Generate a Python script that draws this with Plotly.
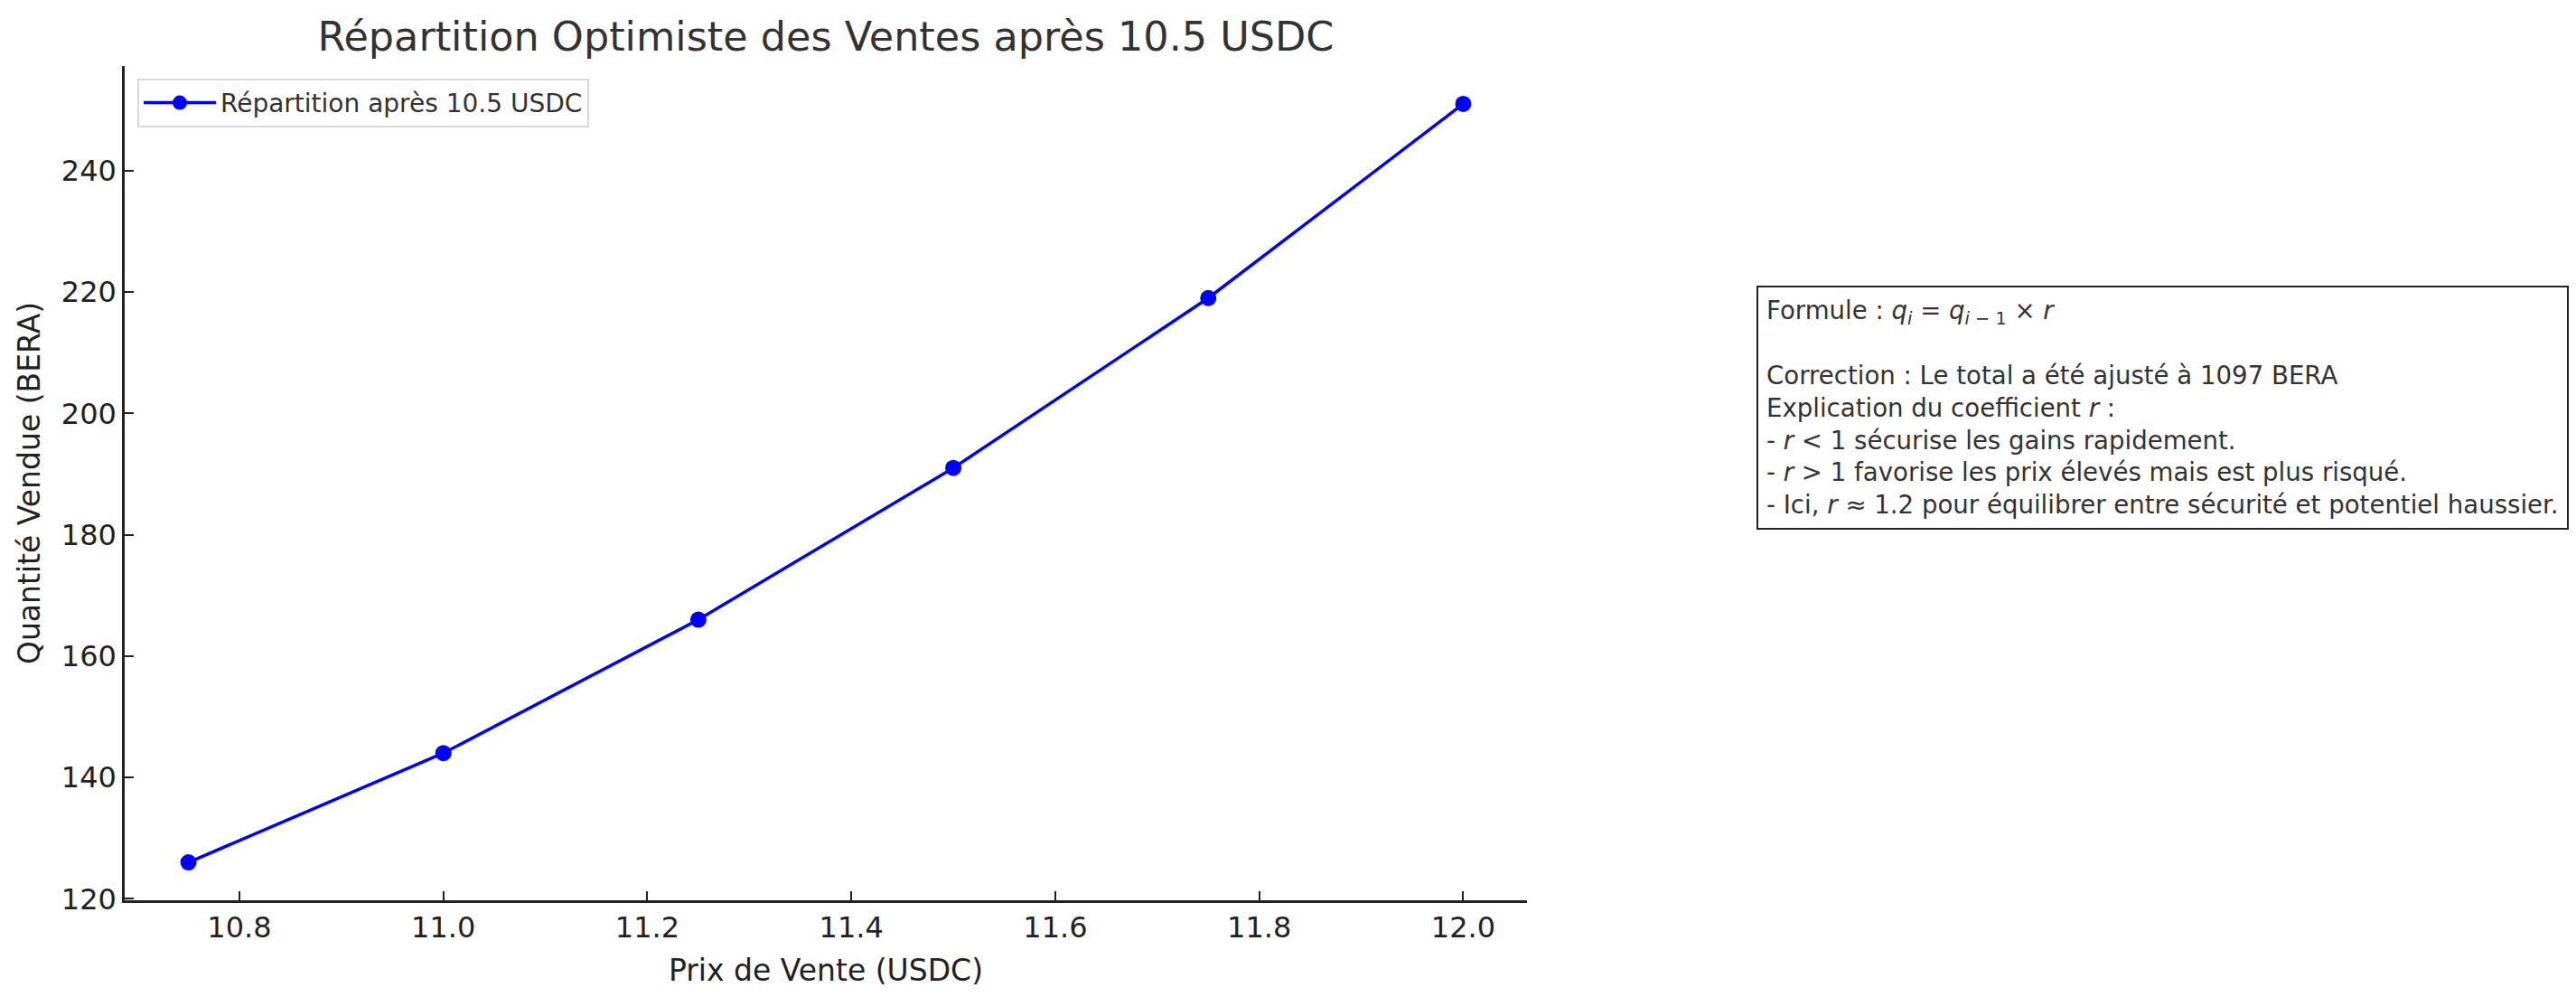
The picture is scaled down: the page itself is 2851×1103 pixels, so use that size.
import plotly.graph_objects as go

prix = [10.75, 11.0, 11.25, 11.5, 11.75, 12.0]
quantites = [126, 144, 166, 191, 219, 251]
x_ticks = [10.8, 11.0, 11.2, 11.4, 11.6, 11.8, 12.0]
x_tick_labels = ["10.8", "11.0", "11.2", "11.4", "11.6", "11.8", "12.0"]
y_ticks = [120, 140, 160, 180, 200, 220, 240]

titre = "Répartition Optimiste des Ventes après 10.5 USDC"
nom_serie = "Répartition après 10.5 USDC"
x_titre = "Prix de Vente (USDC)"
y_titre = "Quantité Vendue (BERA)"
texte_box = (
    "Formule : <i>q</i><sub><i>i</i></sub> = <i>q</i><sub><i>i</i> − 1</sub> × <i>r</i><br>"
    "<br>"
    "Correction : Le total a été ajusté à 1097 BERA<br>"
    "Explication du coefficient <i>r</i> :<br>"
    "- <i>r</i> < 1 sécurise les gains rapidement.<br>"
    "- <i>r</i> > 1 favorise les prix élevés mais est plus risqué.<br>"
    "- Ici, <i>r</i> ≈ 1.2 pour équilibrer entre sécurité et potentiel haussier."
)

W, H = 2851, 1103
L, R, T, B = 138, 1690, 73, 996

fig = go.Figure()
fig.add_trace(go.Scatter(
    x=prix, y=quantites, mode="lines+markers", name=nom_serie,
    line=dict(color="#0000ff", width=3.5),
    marker=dict(color="#0000ff", size=18),
))

font = "DejaVu Sans, sans-serif"
fig.update_layout(
    width=W, height=H,
    margin=dict(l=L, r=W - R, t=T, b=H - B, autoexpand=False),
    paper_bgcolor="white", plot_bgcolor="white",
    font=dict(family=font, color="#222222"),
    title=dict(text=titre, x=(L + R) / 2 / W, xanchor="center", y=1 - 40 / H, yanchor="middle",
               font=dict(size=44.5, color="#333333")),
    showlegend=True,
    legend=dict(x=0.009, y=0.985, xanchor="left", yanchor="top",
                bgcolor="white", bordercolor="#d9d9d9", borderwidth=2,
                itemwidth=80, tracegroupgap=0,
                font=dict(size=28, color="#333333")),
    xaxis=dict(range=[10.6875, 12.0625], tickvals=x_ticks, ticktext=x_tick_labels,
               automargin=False,
               showgrid=False, zeroline=False, showline=True, linecolor="#222222", linewidth=2.5,
               ticks="inside", ticklen=10, tickwidth=1.5, tickcolor="#222222",
               tickfont=dict(size=32, color="#222222"),
               title=dict(text=x_titre, font=dict(size=33, color="#222222"), standoff=18)),
    yaxis=dict(range=[119.75, 257.25], tickvals=y_ticks,
               automargin=False,
               showgrid=False, zeroline=False, showline=True, linecolor="#222222", linewidth=2.5,
               ticks="inside", ticklen=10, tickwidth=1.5, tickcolor="#222222",
               tickfont=dict(size=32, color="#222222"),
               title=dict(text=y_titre, font=dict(size=33, color="#222222"), standoff=14)),
)

fig.add_annotation(
    xref="paper", yref="paper", x=(1944 - L) / (R - L), y=(B - 316) / (B - T),
    xanchor="left", yanchor="top", align="left", showarrow=False,
    text=texte_box, font=dict(size=27.6, color="#333333", family=font),
    bordercolor="#222222", borderwidth=2, borderpad=9, bgcolor="white",
)

fig.write_html("out.html", config={"displayModeBar": False},
               post_script="document.body.style.margin='0';document.body.style.overflow='hidden';")
